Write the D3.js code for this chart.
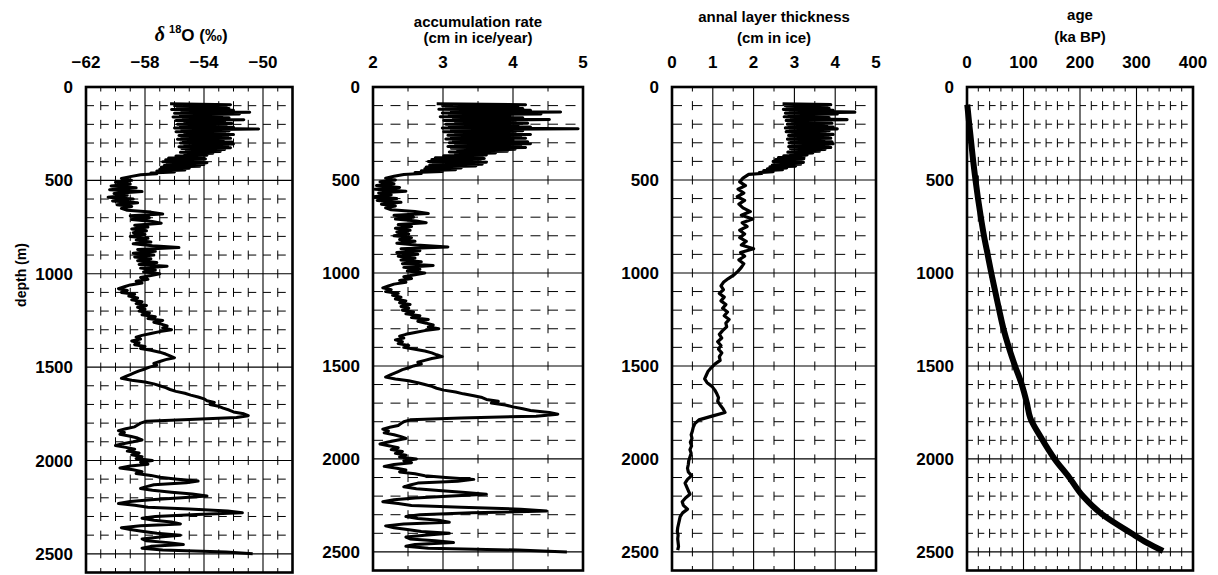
<!DOCTYPE html>
<html>
<head>
<meta charset="utf-8">
<script src="https://cdn.jsdelivr.net/npm/d3@7"></script>
<style>
  body { margin: 0; background: #fff; }
  text { font-family: "Liberation Sans", Arial, sans-serif; font-weight: bold; fill: #000; }
</style>
</head>
<body>
<svg id="chart" width="1218" height="575"></svg>
<script>
// ---- depth sampling (m) ----
const depthTicks = [0, 500, 1000, 1500, 2000, 2500];
const holoDepth = d3.range(90, 471, 5);        // 90 … 470 m
const glacDepth = d3.range(480, 2501, 10);     // 480 … 2500 m
const thickGlacDepth = d3.range(490, 2491, 20); // 490 … 2490 m

// ---- δ18O (‰) ----
const d18oHolo = [
  -56.3, -52.2, -56.0, -52.5, -55.8, -52.3, -56.2, -52.0, -55.5, -50.9,
  -56.0, -51.6, -55.6, -52.8, -56.1, -52.3, -55.4, -51.3, -55.9, -52.6,
  -55.3, -52.1, -55.8, -52.5, -55.6, -52.0, -56.0, -50.3, -55.5, -52.3,
  -55.9, -52.6, -55.3, -52.0, -55.7, -52.4, -55.5, -52.2, -55.8, -52.7,
  -55.4, -52.1, -55.6, -52.0, -55.3, -52.4, -55.7, -52.2, -55.5, -52.6,
  -55.2, -52.9, -55.6, -53.4, -55.3, -53.8, -55.9, -54.0, -56.4, -53.9,
  -56.6, -54.1, -56.8, -53.8, -56.5, -54.0, -56.7, -54.3, -56.9, -55.0,
  -57.0, -55.3, -57.2, -56.0, -57.6, -57.2, -58.3
];
const d18oGlac = [
  -59.0, -59.6, -58.9, -60.0, -59.0, -60.3, -58.6, -60.4, -58.2, -60.1,
  -59.2, -60.5, -58.8, -60.2, -58.5, -59.9, -58.9, -59.6, -59.2, -57.6,
  -56.8, -59.0, -57.7, -58.9, -57.5, -56.9, -58.7, -57.8, -58.9, -57.9,
  -58.8, -58.0, -59.0, -57.8, -58.6, -57.6, -58.8, -57.5, -55.7, -58.5,
  -57.3, -58.8, -57.4, -58.7, -57.6, -58.5, -57.2, -58.4, -56.5, -58.3,
  -57.3, -58.1, -57.0, -57.6, -58.3, -57.8, -58.6, -58.2, -59.0, -59.4,
  -59.8, -59.2, -59.6, -58.7, -59.1, -58.5, -58.9, -58.2, -58.6, -57.9,
  -58.5, -58.0, -58.4, -57.7, -58.2, -57.3, -57.8, -56.8, -57.4, -56.9,
  -56.5, -56.8, -56.2, -57.0, -57.6, -58.2, -58.6, -58.3, -58.9, -58.4,
  -58.7, -58.0, -58.3, -57.6, -57.0, -56.6, -56.3, -56.0, -56.6, -57.0,
  -57.4, -57.2, -57.7, -58.0, -58.4, -58.7, -59.0, -59.3, -59.6, -58.9,
  -58.0, -57.4, -57.0, -56.6, -56.3, -55.9, -55.3, -54.9, -54.4, -54.0,
  -53.8, -53.3, -53.6, -53.0, -52.7, -52.3, -52.0, -51.3, -51.0, -51.8,
  -55.0, -57.9, -58.3, -58.5, -58.7, -59.3, -59.8, -59.4, -59.7, -59.0,
  -58.5, -58.2, -58.8, -59.5, -60.0, -59.3, -58.7, -59.2, -58.4, -58.9,
  -58.2, -58.6, -57.5, -58.3, -57.8, -59.0, -59.7, -58.8, -58.2, -58.6,
  -57.6, -57.0, -55.8, -54.4, -55.2, -57.4, -57.9, -58.3, -57.5, -56.2,
  -54.8, -53.8, -55.5, -57.6, -59.0, -59.8, -58.7, -57.8, -55.0, -52.4,
  -51.4, -54.5, -57.3, -58.2, -57.4, -56.2, -55.6, -58.3, -59.6, -59.0,
  -58.1, -57.2, -55.6, -57.0, -58.2, -57.9, -56.4, -55.4, -57.6, -58.2,
  -56.8, -52.5, -50.7
];

// ---- accumulation rate (cm in ice / year) ----
const accHolo = [
  2.91, 4.18, 2.99, 4.07, 3.04, 4.14, 2.94, 4.25, 3.12, 4.68,
  2.99, 4.40, 3.09, 3.96, 2.96, 4.14, 3.15, 4.52, 3.01, 4.03,
  3.18, 4.21, 3.04, 4.07, 3.09, 4.25, 2.99, 4.93, 3.12, 4.14,
  3.01, 4.03, 3.18, 4.25, 3.07, 4.11, 3.12, 4.18, 3.04, 4.00,
  3.15, 4.21, 3.09, 4.25, 3.18, 4.11, 3.07, 4.18, 3.12, 4.03,
  3.21, 3.92, 3.09, 3.75, 3.18, 3.62, 3.01, 3.56, 2.89, 3.59,
  2.84, 3.53, 2.79, 3.62, 2.86, 3.56, 2.81, 3.47, 2.76, 3.26,
  2.74, 3.18, 2.69, 2.99, 2.60, 2.69, 2.44
];
const accGlac = [
  2.30, 2.18, 2.32, 2.10, 2.30, 2.05, 2.38, 2.03, 2.47, 2.08,
  2.26, 2.01, 2.34, 2.06, 2.40, 2.12, 2.32, 2.18, 2.26, 2.60,
  2.79, 2.30, 2.58, 2.32, 2.62, 2.76, 2.36, 2.55, 2.32, 2.53,
  2.34, 2.51, 2.30, 2.55, 2.38, 2.60, 2.34, 2.62, 3.07, 2.40,
  2.67, 2.34, 2.64, 2.36, 2.60, 2.40, 2.69, 2.42, 2.86, 2.44,
  2.67, 2.49, 2.74, 2.60, 2.44, 2.55, 2.38, 2.47, 2.30, 2.22,
  2.14, 2.26, 2.18, 2.36, 2.28, 2.40, 2.32, 2.47, 2.38, 2.53,
  2.40, 2.51, 2.42, 2.58, 2.47, 2.67, 2.55, 2.79, 2.64, 2.76,
  2.86, 2.79, 2.94, 2.74, 2.60, 2.47, 2.38, 2.44, 2.32, 2.42,
  2.36, 2.51, 2.44, 2.60, 2.74, 2.84, 2.91, 2.99, 2.84, 2.74,
  2.64, 2.69, 2.58, 2.51, 2.42, 2.36, 2.30, 2.24, 2.18, 2.32,
  2.51, 2.64, 2.74, 2.84, 2.91, 3.01, 3.18, 3.29, 3.44, 3.56,
  3.62, 3.79, 3.69, 3.89, 4.00, 4.14, 4.25, 4.52, 4.64, 4.33,
  3.26, 2.53, 2.44, 2.40, 2.36, 2.24, 2.14, 2.22, 2.16, 2.30,
  2.40, 2.47, 2.34, 2.20, 2.10, 2.24, 2.36, 2.26, 2.42, 2.32,
  2.47, 2.38, 2.62, 2.44, 2.55, 2.30, 2.16, 2.34, 2.47, 2.38,
  2.60, 2.74, 3.04, 3.44, 3.21, 2.64, 2.53, 2.44, 2.62, 2.94,
  3.32, 3.62, 3.12, 2.60, 2.30, 2.14, 2.36, 2.55, 3.26, 4.11,
  4.48, 3.41, 2.67, 2.47, 2.64, 2.94, 3.09, 2.44, 2.18, 2.30,
  2.49, 2.69, 3.09, 2.74, 2.47, 2.53, 2.89, 3.15, 2.60, 2.47,
  2.79, 4.07, 4.77
];

// ---- annual layer thickness (cm in ice) ----
const thickHolo = [
  2.71, 3.89, 2.78, 3.79, 2.83, 3.85, 2.73, 3.95, 2.90, 4.48,
  2.78, 4.05, 2.87, 3.68, 2.75, 3.85, 2.93, 4.29, 2.80, 3.75,
  2.96, 3.92, 2.83, 3.79, 2.87, 3.95, 2.78, 4.05, 2.90, 3.85,
  2.80, 3.75, 2.96, 3.95, 2.86, 3.82, 2.90, 3.89, 2.83, 3.72,
  2.93, 3.92, 2.87, 3.95, 2.96, 3.82, 2.86, 3.89, 2.90, 3.75,
  2.95, 3.61, 2.84, 3.45, 2.91, 3.31, 2.74, 3.24, 2.61, 3.23,
  2.54, 3.16, 2.48, 3.22, 2.53, 3.15, 2.46, 3.03, 2.40, 2.81,
  2.34, 2.71, 2.25, 2.48, 2.14, 2.20, 1.88
];
const thickGlac = [
  1.74, 1.66, 1.80, 1.62, 1.76, 1.60, 1.78, 1.64, 1.74, 1.92,
  1.70, 1.98, 1.72, 1.84, 1.66, 1.78, 1.66, 1.82, 1.70, 2.00,
  1.68, 1.78, 1.64, 1.76, 1.70, 1.62, 1.52, 1.38, 1.26, 1.20,
  1.26, 1.16, 1.28, 1.20, 1.32, 1.24, 1.36, 1.28, 1.40, 1.32,
  1.34, 1.24, 1.16, 1.22, 1.12, 1.20, 1.14, 1.22, 1.16, 1.18,
  1.05, 0.96, 0.88, 0.84, 0.80, 0.86, 0.98, 1.05, 1.10, 1.14,
  1.12, 1.18, 1.25, 1.30, 0.98, 0.66, 0.56, 0.52, 0.50, 0.47,
  0.49, 0.45, 0.48, 0.44, 0.47, 0.44, 0.41, 0.40, 0.38, 0.40,
  0.48, 0.38, 0.32, 0.36, 0.40, 0.44, 0.33, 0.25, 0.28, 0.38,
  0.26, 0.20, 0.18, 0.16, 0.14, 0.13, 0.15, 0.14, 0.15, 0.16,
  0.14
];

// ---- age (ka BP) ----
const ageDepth = [95, 200, 300, 400, 500, 600, 700, 800, 900, 1000, 1100, 1200, 1300,
                  1400, 1500, 1600, 1700, 1780, 1880, 2000, 2100, 2200, 2300, 2400, 2450, 2495];
const ageKa = [0.5, 4, 7.5, 11, 15, 19.5, 24.5, 30, 36.5, 43, 50, 57, 64.5,
               74, 85, 97, 106, 112, 130, 155, 181, 205, 240, 291, 318, 347];

// ---- tick labels ----
const d18oTicks = [-62, -58, -54, -50];
const accTicks = [2, 3, 4, 5];
const thickTicks = [0, 1, 2, 3, 4, 5];
const ageTicks = [0, 100, 200, 300, 400];

const svg = d3.select("#chart");
const fmt = v => (v < 0 ? "\u2212" + Math.abs(v) : String(v));

function zip(depths, values) {
  return depths.map((d, i) => ({ d, v: values[i] }));
}

function drawPanel(cfg) {
  const g = svg.append("g");
  const x = d3.scaleLinear().domain(cfg.domain).range([cfg.x0, cfg.x1]);
  const y = d3.scaleLinear().domain([0, 2600]).range([cfg.top, cfg.bottom]);
  const rowH = y(100) - y(0);

  // minor grid (dashed)
  const vMinor = d3.range(cfg.domain[0] + cfg.minor, cfg.domain[1] - 1e-9, cfg.minor)
    .filter(v => !cfg.major.some(m => Math.abs(m - v) < 1e-9));
  const hMinor = d3.range(100, 2600, 100).filter(d => d % 500 !== 0);
  g.selectAll(".hmin").data(hMinor).join("line")
    .attr("x1", cfg.x0).attr("x2", cfg.x1)
    .attr("y1", d => y(d)).attr("y2", d => y(d))
    .attr("stroke", "#000").attr("stroke-width", 1)
    .attr("stroke-dasharray", cfg.hDash);
  g.selectAll(".vmin").data(vMinor).join("line")
    .attr("x1", d => x(d)).attr("x2", d => x(d))
    .attr("y1", cfg.top).attr("y2", cfg.bottom)
    .attr("stroke", "#000").attr("stroke-width", 1)
    .attr("stroke-dasharray", `9 ${rowH - 9}`)
    .attr("stroke-dashoffset", 4.5);

  // major grid (solid)
  g.selectAll(".hmaj").data([500, 1000, 1500, 2000, 2500]).join("line")
    .attr("x1", cfg.x0).attr("x2", cfg.x1)
    .attr("y1", d => y(d)).attr("y2", d => y(d))
    .attr("stroke", "#000").attr("stroke-width", 1.1);
  g.selectAll(".vmaj").data(cfg.major).join("line")
    .attr("x1", d => x(d)).attr("x2", d => x(d))
    .attr("y1", cfg.top).attr("y2", cfg.bottom)
    .attr("stroke", "#000").attr("stroke-width", 1.1);

  // data
  const line = d3.line().x(p => x(p.v)).y(p => y(p.d));
  if (cfg.curve) line.curve(cfg.curve);
  g.append("path").datum(cfg.series)
    .attr("d", line)
    .attr("fill", "none").attr("stroke", "#000")
    .attr("stroke-width", cfg.lw).attr("stroke-linejoin", "round");

  // frame
  g.append("rect")
    .attr("x", cfg.x0).attr("y", cfg.top)
    .attr("width", cfg.x1 - cfg.x0).attr("height", cfg.bottom - cfg.top)
    .attr("fill", "none").attr("stroke", "#000").attr("stroke-width", 2.6);

  // depth tick labels
  g.selectAll(".ylab").data(depthTicks).join("text")
    .attr("x", cfg.x0 - 13).attr("y", d => y(d)).attr("dy", "0.36em")
    .attr("text-anchor", "end").attr("font-size", 17)
    .text(d => d);

  // value tick labels on top
  g.selectAll(".xlab").data(cfg.ticks).join("text")
    .attr("x", d => x(d)).attr("y", 68)
    .attr("text-anchor", "middle").attr("font-size", 17)
    .text(fmt);

  // titles
  const cx = (cfg.x0 + cfg.x1) / 2;
  cfg.title(g, cx);
}

const yTop = 87;

drawPanel({
  x0: 86, x1: 292.5, top: yTop, bottom: 572.5, domain: [-62, -48],
  major: [-58, -54, -50], minor: 1, hDash: "8 6.75", ticks: d18oTicks, lw: 3,
  series: zip(holoDepth, d18oHolo).concat(zip(glacDepth, d18oGlac)),
  title: (g, cx) => {
    const t = g.append("text").attr("x", cx + 2).attr("y", 41)
      .attr("text-anchor", "middle").attr("font-size", 17);
    t.append("tspan").text("\u03B4").attr("font-style", "italic")
      .attr("font-family", "'Liberation Serif', serif").attr("font-size", 20);
    t.append("tspan").text("18").attr("font-size", 11).attr("dy", -8).attr("dx", 4);
    t.append("tspan").text("O (\u2030)").attr("dy", 8);
  }
});

drawPanel({
  x0: 373, x1: 583, top: yTop, bottom: 570.5, domain: [2, 5],
  major: [3, 4], minor: 0.5, hDash: "10 7.5", ticks: accTicks, lw: 3,
  series: zip(holoDepth, accHolo).concat(zip(glacDepth, accGlac)),
  title: (g, cx) => {
    g.append("text").attr("x", cx).attr("y", 27).attr("text-anchor", "middle")
      .attr("font-size", 15).text("accumulation rate");
    g.append("text").attr("x", cx).attr("y", 43).attr("text-anchor", "middle")
      .attr("font-size", 15).text("(cm in ice/year)");
  }
});

drawPanel({
  x0: 672, x1: 876, top: yTop, bottom: 570.5, domain: [0, 5],
  major: [1, 2, 3, 4], minor: 0.5, hDash: "10 10.4", ticks: thickTicks, lw: 3.2,
  series: zip(holoDepth, thickHolo).concat(zip(thickGlacDepth, thickGlac)),
  title: (g, cx) => {
    g.append("text").attr("x", cx).attr("y", 22).attr("text-anchor", "middle")
      .attr("font-size", 15).text("annal layer thickness");
    g.append("text").attr("x", cx).attr("y", 43).attr("text-anchor", "middle")
      .attr("font-size", 15).text("(cm in ice)");
  }
});

drawPanel({
  x0: 967, x1: 1193, top: yTop, bottom: 570.5, domain: [0, 400],
  major: [100, 200, 300], minor: 20, hDash: "6 5.3", ticks: ageTicks, lw: 6,
  curve: d3.curveMonotoneY,
  series: zip(ageDepth, ageKa),
  title: (g, cx) => {
    g.append("text").attr("x", cx).attr("y", 20).attr("text-anchor", "middle")
      .attr("font-size", 15).text("age");
    g.append("text").attr("x", cx).attr("y", 42).attr("text-anchor", "middle")
      .attr("font-size", 15).text("(ka BP)");
  }
});

// depth axis title
svg.append("text")
  .attr("transform", "translate(26,275) rotate(-90)")
  .attr("text-anchor", "middle").attr("font-size", 14)
  .text("depth (m)");
</script>
</body>
</html>
